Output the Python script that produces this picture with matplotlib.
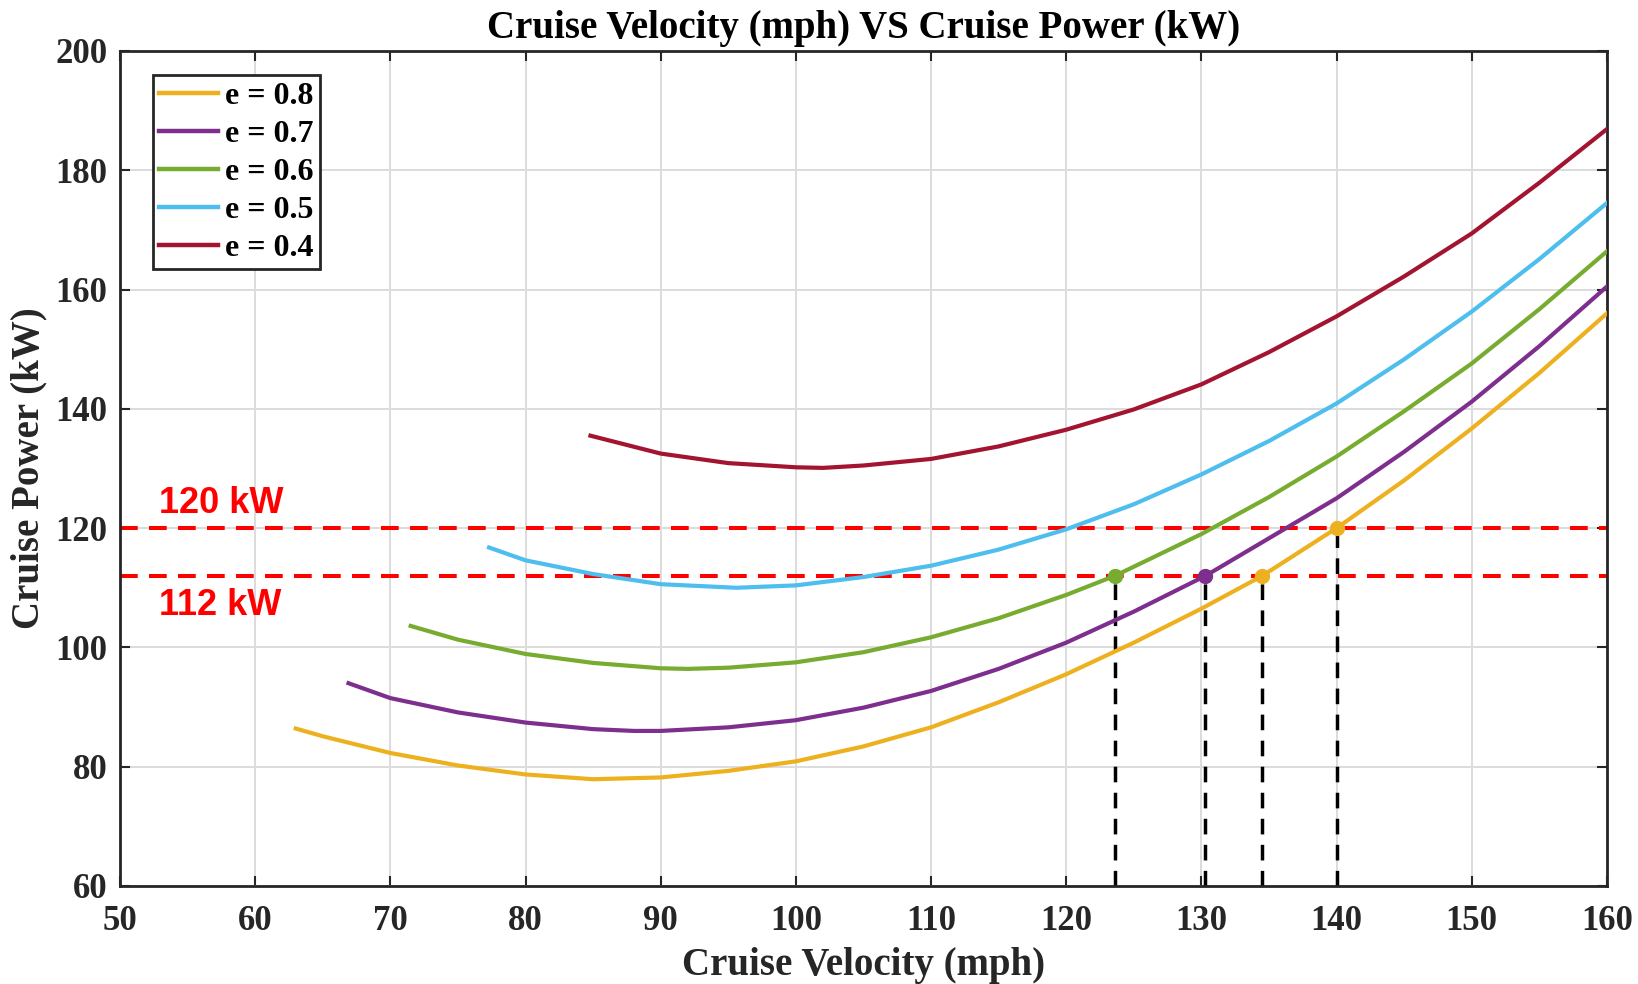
import matplotlib.pyplot as plt

# Curvas (velocidade em mph, potência em kW)
v_08 = [63, 65, 70, 75, 80, 85, 90, 95, 100, 105, 110, 115, 120, 125, 130, 134.5, 140, 145, 150, 155, 160]
p_08 = [86.4, 85.1, 82.3, 80.2, 78.7, 77.9, 78.2, 79.3, 80.9, 83.4, 86.6, 90.8, 95.5, 100.8, 106.5, 112, 120, 128, 136.7, 146, 156]

v_07 = [66.9, 70, 75, 80, 85, 88, 90, 95, 100, 105, 110, 115, 120, 125, 130.3, 135, 140, 145, 150, 155, 160]
p_07 = [94.0, 91.5, 89.1, 87.4, 86.3, 86.0, 86.0, 86.6, 87.8, 89.9, 92.7, 96.4, 100.8, 106.0, 112, 118.3, 125, 132.8, 141.2, 150.5, 160.5]

v_06 = [71.5, 75, 80, 85, 90, 92, 95, 100, 105, 110, 115, 120, 123.6, 130, 135, 140, 145, 150, 155, 160]
p_06 = [103.6, 101.3, 98.9, 97.4, 96.5, 96.4, 96.6, 97.5, 99.2, 101.7, 104.9, 108.8, 112, 119, 125.2, 132, 139.6, 147.6, 156.7, 166.4]

v_05 = [77.3, 80, 85, 90, 95.6, 100, 105, 110, 115, 120, 125, 130, 135, 140, 145, 150, 155, 160]
p_05 = [116.75, 114.6, 112.3, 110.6, 110.0, 110.4, 111.8, 113.7, 116.4, 119.8, 124.0, 129.0, 134.6, 140.9, 148.3, 156.3, 165.1, 174.5]

v_04 = [84.8, 90, 95, 100, 102, 105, 110, 115, 120, 125, 130, 135, 140, 145, 150, 155, 160]
p_04 = [135.5, 132.5, 130.9, 130.2, 130.1, 130.5, 131.6, 133.7, 136.5, 139.9, 144.1, 149.5, 155.5, 162.2, 169.4, 177.9, 186.9]

labels = ['e = 0.8', 'e = 0.7', 'e = 0.6', 'e = 0.5', 'e = 0.4']
cores = ['#EDB120', '#7E2F8E', '#77AC30', '#4DBEEE', '#A2142F']

# Limites de potência e pontos de cruzamento
limites = [120, 112]
limites_txt = ['120 kW', '112 kW']
cruz_v = [123.6, 130.3, 134.5, 140.0]
cruz_p = [112, 112, 112, 120]
cruz_cor = ['#77AC30', '#7E2F8E', '#EDB120', '#EDB120']

plt.rcParams['font.family'] = ['Liberation Serif', 'DejaVu Serif']
plt.rcParams['font.weight'] = 'bold'

fig = plt.figure(figsize=(16.38, 9.84), dpi=100)
ax = fig.add_axes([0.0733, 0.0996, 0.9077, 0.8486])

for lim in limites:
    ax.plot([50, 160], [lim, lim], color='red', linewidth=2.9, dashes=(4.4, 2.8), zorder=2)

ax.text(52.9, 124.2, limites_txt[0], color='red', fontsize=26, fontweight='bold',
        family=['Liberation Sans'], va='center', ha='left')
ax.text(52.9, 107.0, limites_txt[1], color='red', fontsize=26, fontweight='bold',
        family=['Liberation Sans'], va='center', ha='left')

for vx, py in zip(cruz_v, cruz_p):
    ax.plot([vx, vx], [60, py - 1.2], color='black', linewidth=2.5, dashes=(4.5, 3.0), zorder=2)

series = [(v_08, p_08), (v_07, p_07), (v_06, p_06), (v_05, p_05), (v_04, p_04)]
for (v, p), lab, c in zip(series, labels, cores):
    ax.plot(v, p, color=c, linewidth=3.0, label=lab, zorder=3, solid_joinstyle='round')

for vx, py, c in zip(cruz_v, cruz_p, cruz_cor):
    ax.plot(vx, py, 'o', color=c, markersize=10, zorder=4)

ax.set_xlim(50, 160)
ax.set_ylim(60, 200)
ax.set_xticks(range(50, 161, 10))
ax.set_yticks(range(60, 201, 20))
ax.tick_params(direction='in', length=7.5, width=1.5, top=True, right=True,
               labelsize=25, color='#262626', labelcolor='#262626')
ax.tick_params(axis='x', pad=14)
ax.tick_params(axis='y', pad=9)
for s in ax.spines.values():
    s.set_linewidth(2.0)
    s.set_color('#262626')
ax.grid(True, color='#dcdcdc', linewidth=1.4)
ax.set_axisbelow(True)

ax.set_xlabel('Cruise Velocity (mph)', fontsize=28, fontweight='bold', labelpad=6, color='#262626')
ax.set_ylabel('Cruise Power (kW)', fontsize=28, fontweight='bold', labelpad=6, color='#262626')
ax.set_title('Cruise Velocity (mph) VS Cruise Power (kW)', fontsize=28, fontweight='bold', pad=9)

leg = ax.legend(loc='upper left', bbox_to_anchor=(0.022, 0.971), fontsize=23, frameon=True,
                fancybox=False, edgecolor='#262626', framealpha=1, borderpad=0.2,
                labelspacing=0.27, handlelength=1.85, handletextpad=0.2, borderaxespad=0)
leg.get_frame().set_linewidth(2.0)
for l in leg.get_lines():
    l.set_linewidth(3.2)

plt.savefig('out.png', dpi=100)
